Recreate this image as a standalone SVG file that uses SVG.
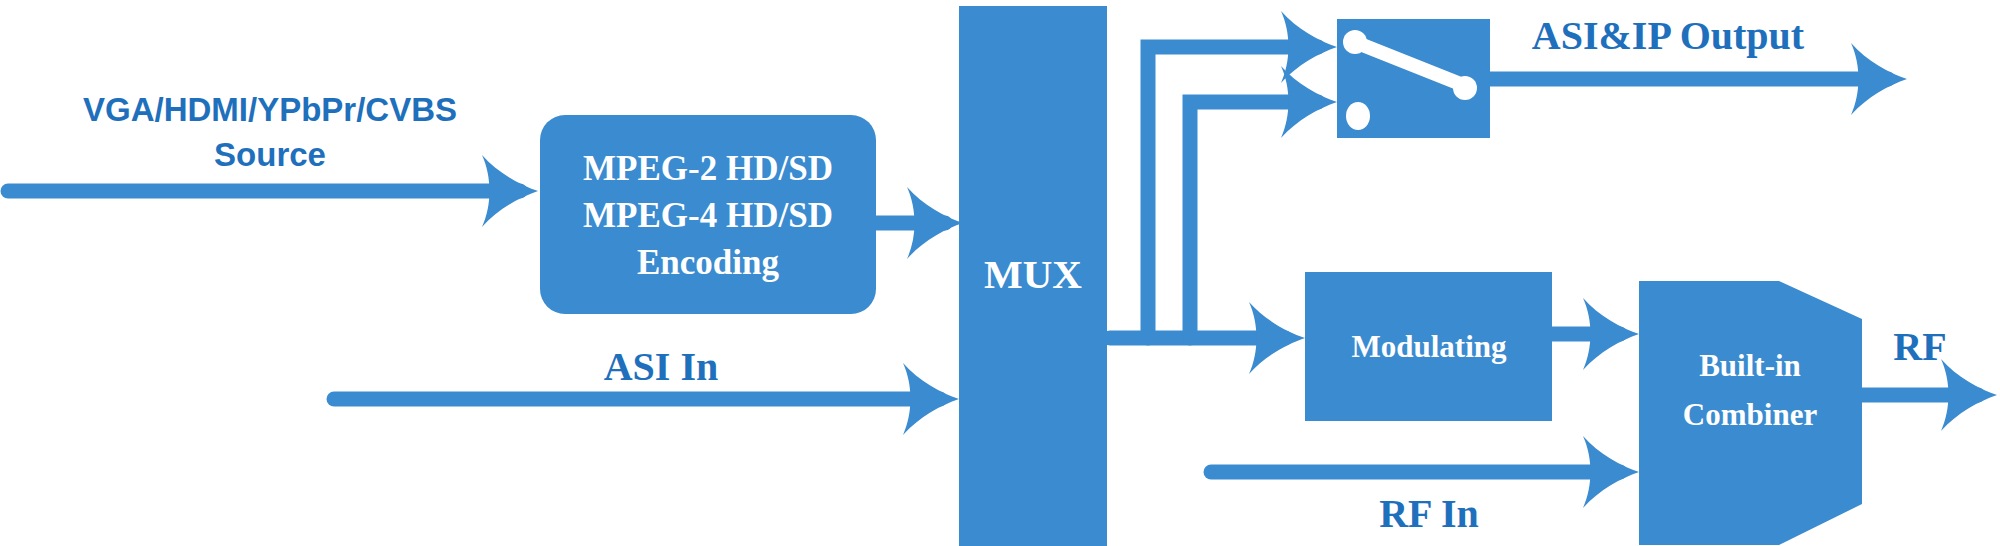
<svg xmlns="http://www.w3.org/2000/svg" xmlns:xlink="http://www.w3.org/1999/xlink" width="2000" height="546" viewBox="0 0 2000 546">
<style>
.ln{stroke:#3a8bcf;stroke-width:15;stroke-linecap:round;fill:none}
.bx{fill:#3a8bcf}
.wt{fill:#fff;font-family:"Liberation Serif",serif;font-weight:bold;text-anchor:middle}
.bt{fill:#1f70bc;font-family:"Liberation Serif",serif;font-weight:bold;text-anchor:middle}
.st{fill:#1f70bc;font-family:"Liberation Sans",sans-serif;font-weight:bold;text-anchor:middle;font-size:33px}
.ah{fill:#3a8bcf}
</style>
<defs>
<path id="ah" d="M0,0 C-18,-6 -40,-18 -56,-36 C-46,-14 -46,14 -56,36 C-40,18 -18,6 0,0Z"/>
</defs>
<rect width="2000" height="546" fill="#fff"/>
<g id="connectors">
<line class="ln" x1="8" y1="191" x2="520" y2="191"/><use href="#ah" class="ah" x="538" y="191"/>
<line class="ln" x1="876" y1="223" x2="945" y2="223"/><use href="#ah" class="ah" x="963" y="223"/>
<line class="ln" x1="334" y1="399" x2="940" y2="399"/><use href="#ah" class="ah" x="959" y="399"/>
<line class="ln" x1="1110" y1="338" x2="1285" y2="338"/><use href="#ah" class="ah" x="1305" y="338"/>
<polyline class="ln" points="1148,338 1148,47 1318,47"/><use href="#ah" class="ah" x="1337" y="47"/>
<polyline class="ln" points="1190,338 1190,102 1318,102"/><use href="#ah" class="ah" x="1337" y="102"/>
<line class="ln" x1="1490" y1="79" x2="1888" y2="79"/><use href="#ah" class="ah" x="1907" y="79"/>
<line class="ln" x1="1552" y1="334" x2="1620" y2="334"/><use href="#ah" class="ah" x="1639" y="334"/>
<line class="ln" x1="1211" y1="472" x2="1620" y2="472"/><use href="#ah" class="ah" x="1639" y="472"/>
<line class="ln" x1="1862" y1="395" x2="1978" y2="395"/><use href="#ah" class="ah" x="1997" y="395"/>
</g>
<g id="source"><text class="st" x="270" y="121">VGA/HDMI/YPbPr/CVBS</text><text class="st" x="270" y="166">Source</text></g>
<g id="encoding"><rect class="bx" x="540" y="115" width="336" height="199" rx="25"/>
<text class="wt" x="708" y="180" font-size="35">MPEG-2 HD/SD</text><text class="wt" x="708" y="227" font-size="35">MPEG-4 HD/SD</text><text class="wt" x="708" y="274" font-size="35">Encoding</text></g>
<g id="asiin"><text class="bt" x="661" y="380" font-size="40">ASI In</text></g>
<g id="mux"><rect class="bx" x="959" y="6" width="148" height="540"/><text class="wt" x="1033" y="288" font-size="41">MUX</text></g>
<g id="switch"><rect class="bx" x="1337" y="19" width="153" height="119"/>
<line x1="1355" y1="42" x2="1463" y2="85" stroke="#fff" stroke-width="14" stroke-linecap="round"/>
<circle cx="1355" cy="42" r="12" fill="#fff"/><circle cx="1465" cy="88" r="12" fill="#fff"/><ellipse cx="1358" cy="116" rx="12" ry="14" fill="#fff"/></g>
<g id="asiip"><text class="bt" x="1668" y="49" font-size="40">ASI&amp;IP Output</text></g>
<g id="modulating"><rect class="bx" x="1305" y="272" width="247" height="149"/><text class="wt" x="1429" y="357" font-size="31">Modulating</text></g>
<g id="combiner"><path class="bx" d="M1639,281 H1779 L1862,319 V504 L1779,545 H1639Z"/>
<text class="wt" x="1750" y="376" font-size="31">Built-in</text><text class="wt" x="1750" y="425" font-size="31">Combiner</text></g>
<g id="rf"><text class="bt" x="1920" y="360" font-size="40">RF</text></g>
<g id="rfin"><text class="bt" x="1429" y="527" font-size="40">RF In</text></g>
</svg>
